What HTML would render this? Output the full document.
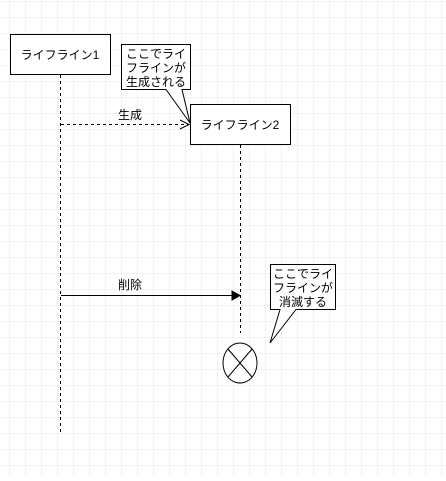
<!DOCTYPE html>
<html><head><meta charset="utf-8"><style>
body{margin:0;background:#fff}
svg text{font-family:"Liberation Sans","Noto Sans CJK JP",sans-serif;font-size:12px;fill:#000}
</style></head><body>
<svg width="446" height="476" xmlns="http://www.w3.org/2000/svg">
<defs><pattern id="g" width="16" height="16" patternUnits="userSpaceOnUse" x="10" y="2">
<path d="M16 0V16H0" fill="none" stroke="#e6e6e6" stroke-width="1"/></pattern></defs>
<rect width="446" height="476" fill="url(#g)"/>
<rect x="10.5" y="34.5" width="100" height="40" fill="#fff" stroke="#000"/>
<text x="60" y="59" text-anchor="middle">ライフライン1</text>
<line x1="60.5" y1="75" x2="60.5" y2="432" stroke="#000" stroke-dasharray="3,3"/>
<rect x="190.5" y="104.5" width="100" height="40" fill="#fff" stroke="#000"/>
<text x="240" y="129" text-anchor="middle">ライフライン2</text>
<line x1="240.5" y1="145" x2="240.5" y2="333" stroke="#000" stroke-dasharray="3,3"/>
<line x1="61" y1="124.5" x2="188" y2="124.5" stroke="#000" stroke-dasharray="3,3"/>
<path d="M180 120L189 124.5L180 129" fill="none" stroke="#000"/>
<text x="130" y="119" text-anchor="middle">生成</text>
<line x1="61" y1="295.5" x2="234" y2="295.5" stroke="#000"/>
<path d="M232 291L240 295.5L232 300Z" fill="#000" stroke="#000"/>
<text x="130" y="289" text-anchor="middle">削除</text>
<path d="M121.5 44.5H190.5V89.5H182L190 123L166 89.5H121.5Z" fill="#fff" stroke="#000"/>
<text x="156" y="58" text-anchor="middle">ここでライ</text>
<text x="156" y="72" text-anchor="middle">フラインが</text>
<text x="156" y="86" text-anchor="middle">生成される</text>
<path d="M270.5 264.5H335.5V309.5H296L270 343L280 309.5H270.5Z" fill="#fff" stroke="#000"/>
<text x="303" y="278" text-anchor="middle">ここでライ</text>
<text x="303" y="292" text-anchor="middle">フラインが</text>
<text x="303" y="306" text-anchor="middle">消滅する</text>
<ellipse cx="240" cy="363" rx="17" ry="20" fill="#fff" stroke="#000"/>
<line x1="228" y1="349" x2="252" y2="377" stroke="#000"/>
<line x1="252" y1="349" x2="228" y2="377" stroke="#000"/>
</svg>
</body></html>
